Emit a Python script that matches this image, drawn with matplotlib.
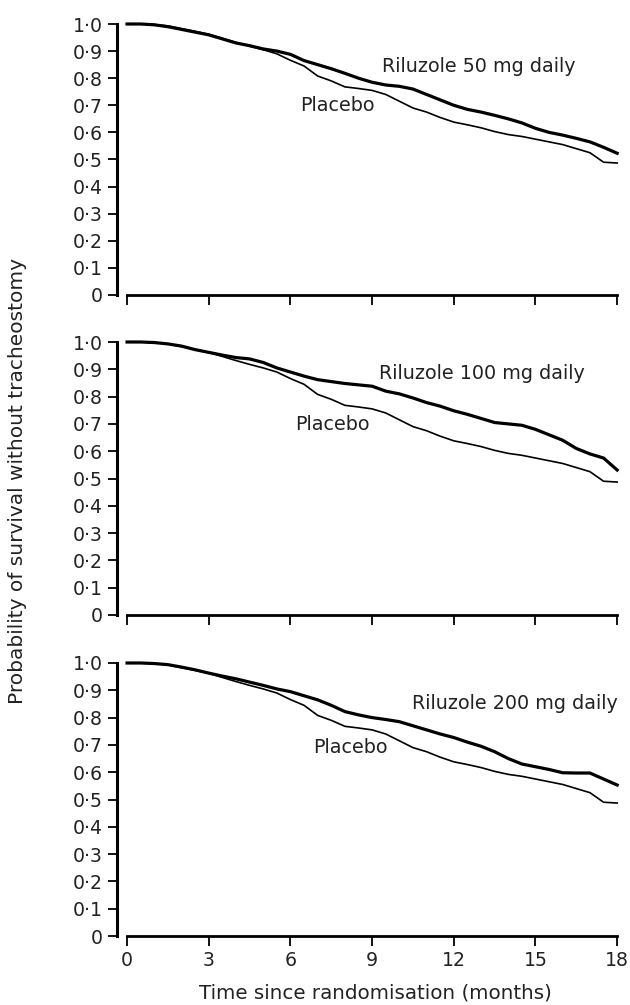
import matplotlib
matplotlib.use("Agg")
import matplotlib.pyplot as plt
from matplotlib.ticker import FixedLocator

# ---------------- data ----------------
months = [0, 0.5, 1, 1.5, 2, 2.5, 3, 3.5, 4, 4.5, 5, 5.5, 6, 6.5, 7, 7.5, 8, 8.5,
          9, 9.5, 10, 10.5, 11, 11.5, 12, 12.5, 13, 13.5, 14, 14.5, 15, 15.5,
          16, 16.5, 17, 17.5, 18]

placebo = [1.0, 1.0, 0.998, 0.993, 0.983, 0.973, 0.962, 0.947, 0.932, 0.918,
           0.905, 0.89, 0.866, 0.845, 0.808, 0.79, 0.768, 0.762, 0.755, 0.74,
           0.715, 0.69, 0.675, 0.655, 0.638, 0.628, 0.617, 0.603, 0.592, 0.585,
           0.575, 0.565, 0.555, 0.54, 0.525, 0.49, 0.487]

riluzole_50 = [1.0, 1.0, 0.997, 0.99, 0.98, 0.97, 0.96, 0.945, 0.93, 0.92,
               0.908, 0.9, 0.888, 0.865, 0.85, 0.835, 0.818, 0.80, 0.785, 0.775,
               0.77, 0.76, 0.74, 0.72, 0.70, 0.685, 0.675, 0.663, 0.65, 0.635,
               0.615, 0.60, 0.59, 0.578, 0.565, 0.545, 0.523]

riluzole_100 = [1.0, 1.0, 0.998, 0.993, 0.985, 0.972, 0.962, 0.952, 0.943, 0.938,
                0.925, 0.905, 0.89, 0.875, 0.862, 0.855, 0.848, 0.843, 0.838, 0.82,
                0.81, 0.795, 0.778, 0.765, 0.748, 0.735, 0.72, 0.705, 0.70, 0.695,
                0.68, 0.66, 0.64, 0.61, 0.59, 0.575, 0.531]

riluzole_200 = [1.0, 1.0, 0.998, 0.994, 0.985, 0.975, 0.963, 0.952, 0.942, 0.93,
                0.918, 0.905, 0.895, 0.88, 0.865, 0.845, 0.822, 0.81, 0.80, 0.793,
                0.785, 0.77, 0.755, 0.74, 0.727, 0.71, 0.695, 0.675, 0.65, 0.63,
                0.62, 0.61, 0.598, 0.597, 0.597, 0.575, 0.553]

dose_labels = ["Riluzole 50 mg daily", "Riluzole 100 mg daily", "Riluzole 200 mg daily"]
placebo_label = "Placebo"

x_ticks = [0, 3, 6, 9, 12, 15, 18]
x_ticklabels = ["0", "3", "6", "9", "12", "15", "18"]
y_ticks = [0, 0.1, 0.2, 0.3, 0.4, 0.5, 0.6, 0.7, 0.8, 0.9, 1.0]
y_ticklabels = ["0", "0·1", "0·2", "0·3", "0·4", "0·5", "0·6", "0·7", "0·8", "0·9", "1·0"]

ylabel = "Probability of survival without tracheostomy"
xlabel = "Time since randomisation (months)"

# label positions (data coords)
dose_label_pos = [(9.37, 0.845), (9.26, 0.886), (10.47, 0.853)]
placebo_label_pos = [(6.35, 0.70), (6.17, 0.696), (6.83, 0.692)]

# ---------------- figure ----------------
plt.rcParams['font.family'] = ['DejaVu Sans']
FS_TICK = 13.6
FS_TXT = 13.8
TXT = "#222222"

fig = plt.figure(figsize=(6.3, 10.05), dpi=100)

W, H = 630, 1005
left_px, right_px = 117, 618
panel_px = [(24, 295), (342, 615), (663, 936)]
xmin, xmax = -0.37, 18.03

treat_series = [riluzole_50, riluzole_100, riluzole_200]

for i, (top, bot) in enumerate(panel_px):
    ax = fig.add_axes([left_px / W, 1 - bot / H, (right_px - left_px) / W, (bot - top) / H])
    ax.plot(months, placebo, color='black', lw=1.2, clip_on=False)
    ax.plot(months, treat_series[i], color='black', lw=2.3, clip_on=False)

    ax.set_xlim(xmin, xmax)
    ax.set_ylim(0, 1.0)
    for s in ['top', 'right']:
        ax.spines[s].set_visible(False)
    ax.spines['left'].set_linewidth(2.2)
    ax.spines['bottom'].set_linewidth(2.0)
    ax.spines['bottom'].set_bounds(0, 18)
    ax.spines['left'].set_bounds(0, 1.0)

    ax.yaxis.set_major_locator(FixedLocator(y_ticks))
    ax.set_yticklabels(y_ticklabels)
    ax.xaxis.set_major_locator(FixedLocator(x_ticks))
    if i == 2:
        ax.set_xticklabels(x_ticklabels)
    else:
        ax.set_xticklabels([])
    ax.tick_params(axis='y', direction='out', length=6.5, width=1.3, labelsize=FS_TICK,
                   pad=4, colors='black', labelcolor=TXT)
    ax.tick_params(axis='x', direction='out', length=7, width=1.3, labelsize=FS_TICK,
                   pad=4, colors='black', labelcolor=TXT)

    ax.text(dose_label_pos[i][0], dose_label_pos[i][1], dose_labels[i],
            fontsize=FS_TXT, color=TXT, ha='left', va='center')
    ax.text(placebo_label_pos[i][0], placebo_label_pos[i][1], placebo_label,
            fontsize=FS_TXT, color=TXT, ha='left', va='center')

fig.text(18 / W, 1 - 481 / H, ylabel, rotation=90, ha='center', va='center',
         fontsize=14.5, color=TXT)
fig.text(375 / W, 1 - 993 / H, xlabel, ha='center', va='center',
         fontsize=14.3, color=TXT)

fig.savefig("out.png", dpi=100, facecolor='white')
